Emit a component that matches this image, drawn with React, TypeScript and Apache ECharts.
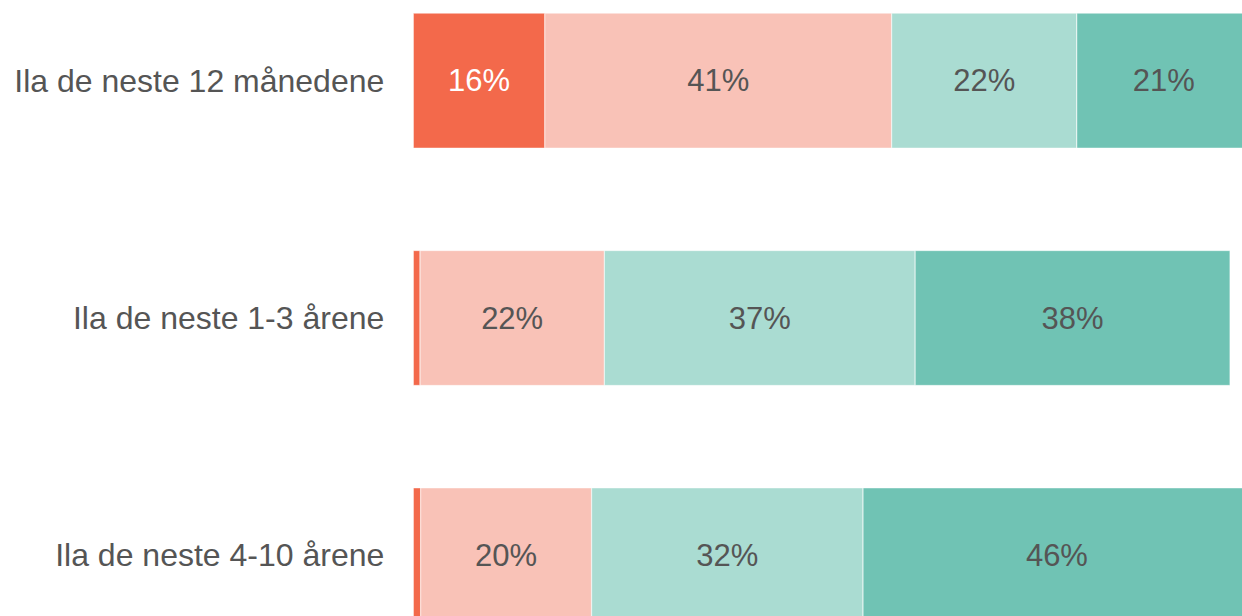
import React, { useEffect, useRef } from "react";
import * as echarts from "echarts";

const categories = ["Ila de neste 12 månedene", "Ila de neste 1-3 årene", "Ila de neste 4-10 årene"];
const seriesNames = ["A", "B", "C", "D"];
const valuesA = [15.7, 0.8, 0.88];
const valuesB = [41.4, 22.0, 20.4];
const valuesC = [22.1, 37.1, 32.4];
const valuesD = [20.8, 37.6, 46.3];
const colors = ["#F3694B", "#F9C2B7", "#AADCD2", "#70C3B4"];
const labelColors = ["#FFFFFF", "#555555", "#555555", "#555555"];

export default function App() {
  const ref = useRef<HTMLDivElement>(null);
  useEffect(() => {
    if (!ref.current) return;
    const chart = echarts.init(ref.current, null, { renderer: "svg" });
    const data = [valuesA, valuesB, valuesC, valuesD];
    chart.setOption({
      animation: false,
      grid: { left: 413.3, right: 0, top: 0, bottom: 0, containLabel: false },
      xAxis: {
        type: "value",
        min: 0,
        max: 100,
        show: false,
      },
      yAxis: {
        type: "category",
        data: categories,
        inverse: true,
        axisLine: { show: false },
        axisTick: { show: false },
        splitLine: { show: false },
        axisLabel: {
          color: "#555555",
          fontSize: 32,
          fontFamily: "Liberation Sans, Arial, sans-serif",
          margin: 29,
        },
      },
      series: data.map((vals, i) => ({
        name: seriesNames[i],
        type: "bar",
        stack: "total",
        barWidth: 135,
        data: vals,
        itemStyle: { color: colors[i], borderColor: "#ffffff", borderWidth: 0.4 },
        label: {
          show: true,
          position: "inside",
          color: labelColors[i],
          fontSize: 31,
          fontFamily: "Liberation Sans, Arial, sans-serif",
          formatter: (p: any) => (p.value < 3 ? "" : Math.round(p.value) + "%"),
        },
      })),
    });
    return () => chart.dispose();
  }, []);
  return (
    <div style={{ position: "fixed", left: 0, top: 0, width: 1242, height: 616, overflow: "hidden", background: "#fff" }}>
      <div ref={ref} style={{ position: "absolute", left: 0, top: -38.3, width: 1251.3, height: 711.6 }} />
    </div>
  );
}
